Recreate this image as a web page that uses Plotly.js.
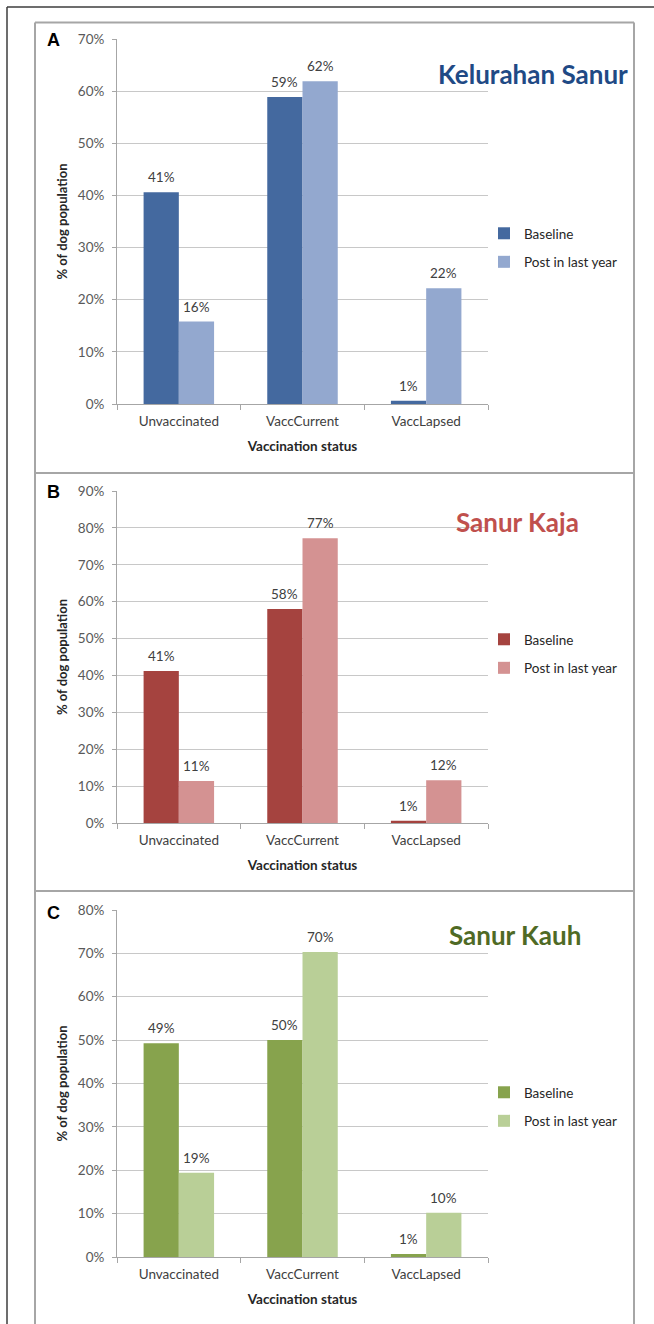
<!DOCTYPE html>
<html>
<head>
<meta charset="utf-8">
<script src="https://cdn.plot.ly/plotly-3.0.1.min.js"></script>
<style>
  html, body { margin: 0; padding: 0; background: #ffffff; }
  #chart { width: 654px; height: 1324px; }
</style>
</head>
<body>
<div id="chart"></div>
<script>
// Vaccination status of the dog population, baseline vs. post in last year
const categories = ['Unvaccinated', 'VaccCurrent', 'VaccLapsed'];
const seriesNames = ['Baseline', 'Post in last year'];

const sanurBaseline = [40.6, 58.9, 0.6];
const sanurPost = [15.8, 61.9, 22.2];

const kajaBaseline = [41.2, 58.0, 0.6];
const kajaPost = [11.4, 77.2, 11.6];

const kauhBaseline = [49.3, 50.0, 0.7];
const kauhPost = [19.4, 70.3, 10.2];

const panelLetters = ['A', 'B', 'C'];
const panelTitles = ['Kelurahan Sanur', 'Sanur Kaja', 'Sanur Kauh'];
const axisMax = [70, 90, 80];

const xTitle = 'Vaccination status';
const yTitle = '% of dog population';

// page geometry (pixels)
const W = 654, H = 1324;
const px = v => v / W;
const py = v => 1 - v / H;
const PLOT_L = 117, PLOT_R = 488;
const BARGAP = 0.43;

const panels = [
  { base: sanurBaseline, post: sanurPost, colors: ['#44699F', '#93A8CF'], titleColor: '#1F4A85',
    plotTop: 39, plotBottom: 404, letterY: 40, titleRight: 630, titleY: 74, legendY: 248 },
  { base: kajaBaseline, post: kajaPost, colors: ['#A5433F', '#D49292'], titleColor: '#C0504D',
    plotTop: 491, plotBottom: 823, letterY: 492, titleRight: 581, titleY: 522, legendY: 654 },
  { base: kauhBaseline, post: kauhPost, colors: ['#87A34D', '#B9CF97'], titleColor: '#4F6A25',
    plotTop: 910, plotBottom: 1257, letterY: 913, titleRight: 583, titleY: 935, legendY: 1107 }
];

const FONT = 'Lato, "Open Sans", sans-serif';
const traces = [];
const layout = {
  width: W, height: H,
  margin: { l: 0, r: 0, t: 0, b: 0 },
  paper_bgcolor: '#ffffff',
  plot_bgcolor: '#ffffff',
  font: { family: FONT, size: 13, color: '#404040' },
  barmode: 'group',
  bargap: BARGAP,
  bargroupgap: 0,
  annotations: [],
  shapes: []
};

// horizontal offset of each bar inside its category group, in pixels
const catPx = (PLOT_R - PLOT_L) / categories.length;
const barPx = catPx * (1 - BARGAP) / 2;
const barShift = [-barPx / 2, barPx / 2];

panels.forEach((p, i) => {
  const n = i === 0 ? '' : String(i + 1);
  const legendName = 'legend' + n;
  const xa = 'x' + n, ya = 'y' + n;

  [p.base, p.post].forEach((vals, k) => {
    traces.push({
      type: 'bar',
      x: categories,
      y: vals,
      name: seriesNames[k],
      xaxis: xa, yaxis: ya,
      legend: legendName,
      legendgroup: 'g' + i + k,
      marker: { color: p.colors[k], line: { width: 0 } },
      hoverinfo: 'x+y'
    });
    // value labels above each bar
    vals.forEach((v, c) => {
      layout.annotations.push({
        xref: xa, yref: ya,
        x: categories[c], y: v,
        text: Math.round(v) + '%',
        showarrow: false,
        xanchor: 'center', yanchor: 'middle',
        xshift: barShift[k], yshift: 15,
        font: { family: FONT, size: 13.5, color: '#404040' }
      });
    });
  });

  layout['xaxis' + n] = {
    domain: [px(PLOT_L), px(PLOT_R)],
    anchor: ya,
    showline: true, linecolor: '#A6A6A6', linewidth: 1,
    ticks: 'outside', tickson: 'boundaries', ticklen: 5, tickcolor: '#A6A6A6',
    ticklabelstandoff: 5,
    tickfont: { family: FONT, size: 13.5, color: '#404040' },
    showgrid: false,
    fixedrange: true,
    title: { text: '<b>' + xTitle + '</b>', font: { family: FONT, size: 13.5, color: '#262626' }, standoff: 13 }
  };
  layout['yaxis' + n] = {
    domain: [py(p.plotBottom), py(p.plotTop)],
    anchor: xa,
    range: [0, axisMax[i]],
    dtick: 10,
    ticksuffix: '%',
    showline: true, linecolor: '#A6A6A6', linewidth: 1,
    ticks: 'outside', ticklen: 4, tickcolor: '#A6A6A6',
    ticklabelstandoff: 5,
    tickfont: { family: FONT, size: 13.5, color: '#595959' },
    showgrid: true, gridcolor: '#C8C8C8', gridwidth: 1,
    zeroline: false,
    fixedrange: true,
    title: { text: '<b>' + yTitle + '</b>', font: { family: FONT, size: 13, color: '#262626' }, standoff: 7 }
  };
  layout[legendName] = {
    x: px(484), y: py(p.legendY), xanchor: 'left', yanchor: 'middle',
    xref: 'paper', yref: 'paper',
    bgcolor: 'rgba(0,0,0,0)', borderwidth: 0,
    tracegroupgap: 8,
    font: { family: FONT, size: 13.5, color: '#262626' }
  };

  layout.annotations.push({
    text: '<b>' + panelLetters[i] + '</b>',
    xref: 'paper', yref: 'paper',
    x: px(45), y: py(p.letterY), xanchor: 'left', yanchor: 'middle',
    showarrow: false,
    font: { family: 'Liberation Sans, Arial, sans-serif', size: 18, color: '#000000' }
  });
  layout.annotations.push({
    text: '<b>' + panelTitles[i] + '</b>',
    xref: 'paper', yref: 'paper',
    x: px(p.titleRight), y: py(p.titleY), xanchor: 'right', yanchor: 'middle',
    showarrow: false,
    font: { family: FONT, size: 26, color: p.titleColor }
  });
});

// panel frames
const frame = { type: 'line', xref: 'paper', yref: 'paper' };
layout.shapes.push(
  Object.assign({}, frame, { x0: px(7), x1: px(7), y0: py(7), y1: py(H + 5), line: { color: '#3C3C3C', width: 1.5 } }),
  Object.assign({}, frame, { x0: px(7), x1: px(W + 5), y0: py(7), y1: py(7), line: { color: '#3C3C3C', width: 1.5 } }),
  Object.assign({}, frame, { x0: px(35), x1: px(35), y0: py(22.5), y1: py(H + 5), line: { color: '#A6A6A6', width: 2 } }),
  Object.assign({}, frame, { x0: px(634), x1: px(634), y0: py(22.5), y1: py(H + 5), line: { color: '#A6A6A6', width: 2 } }),
  Object.assign({}, frame, { x0: px(35), x1: px(634), y0: py(22.5), y1: py(22.5), line: { color: '#A6A6A6', width: 2 } }),
  Object.assign({}, frame, { x0: px(35), x1: px(634), y0: py(473), y1: py(473), line: { color: '#A6A6A6', width: 2 } }),
  Object.assign({}, frame, { x0: px(35), x1: px(634), y0: py(891), y1: py(891), line: { color: '#A6A6A6', width: 2 } })
);

Plotly.newPlot('chart', traces, layout, { displayModeBar: false, responsive: false });
</script>
</body>
</html>
